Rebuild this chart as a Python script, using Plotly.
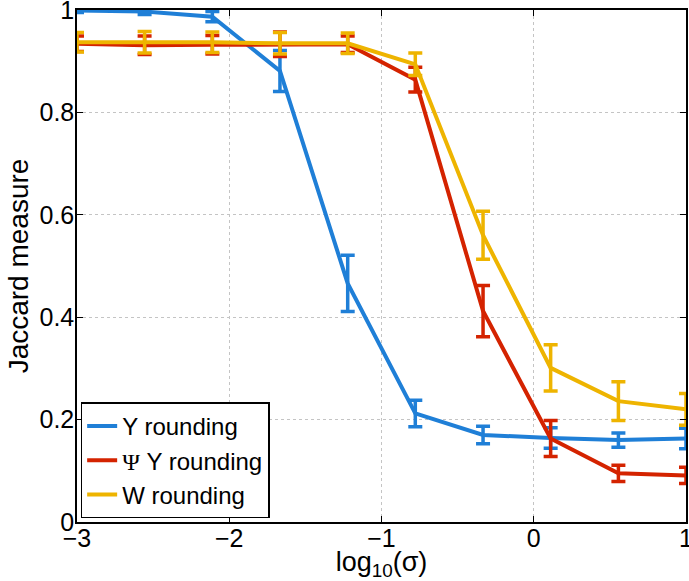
import plotly.graph_objects as go

# ---- data ----
log_sigma = [-3.0, -2.556, -2.111, -1.667, -1.222, -0.778, -0.333, 0.111, 0.556, 1.0]

y_round = [0.999, 0.997, 0.987, 0.881, 0.466, 0.212, 0.170, 0.164, 0.160, 0.163]
y_round_err = [0.004, 0.006, 0.010, 0.040, 0.055, 0.026, 0.017, 0.020, 0.014, 0.020]

psi_round = [0.934, 0.931, 0.932, 0.933, 0.933, 0.864, 0.412, 0.163, 0.095, 0.091]
psi_round_err = [0.015, 0.018, 0.018, 0.024, 0.016, 0.024, 0.050, 0.035, 0.016, 0.016]

w_round = [0.937, 0.937, 0.937, 0.935, 0.935, 0.894, 0.560, 0.301, 0.236, 0.220]
w_round_err = [0.019, 0.021, 0.020, 0.021, 0.020, 0.022, 0.047, 0.045, 0.038, 0.031]

series_names = ["Y rounding", "<span style='font-family:\"Liberation Serif\"'>Ψ</span> Y rounding", "W rounding"]
colors = ["#1f7fd7", "#d42300", "#eeb400"]

x_ticks = [-3, -2, -1, 0, 1]
x_tick_text = ["\u22123", "\u22122", "\u22121", "0", "1"]
y_ticks = [0, 0.2, 0.4, 0.6, 0.8, 1]
y_tick_text = ["0", "0.2", "0.4", "0.6", "0.8", "1"]

FONT = "Liberation Sans, Arial, sans-serif"

fig = go.Figure()
for name, ys, errs, col in zip(series_names,
                               [y_round, psi_round, w_round],
                               [y_round_err, psi_round_err, w_round_err],
                               colors):
    fig.add_trace(go.Scatter(
        x=log_sigma, y=ys, name=name, mode="lines",
        line=dict(color=col, width=4),
        error_y=dict(type="data", array=errs, visible=True,
                     color=col, thickness=3.5, width=7),
        cliponaxis=True,
    ))

axis_common = dict(
    showline=True, linecolor="black", linewidth=1.5, mirror="ticks",
    ticks="inside", ticklen=6, tickwidth=1, tickcolor="black",
    showgrid=True, gridcolor="#c4c4c4", griddash="dot", gridwidth=1,
    zeroline=False, ticklabeloverflow="allow",
    tickfont=dict(family=FONT, size=25, color="black"),
)

fig.update_xaxes(
    range=[-3, 1], tickvals=x_ticks, ticktext=x_tick_text,
    ticklabelstandoff=-7,
    title=dict(text="log<sub>10</sub>(σ)", font=dict(family=FONT, size=27, color="black"), standoff=0),
    **axis_common,
)
fig.update_yaxes(
    range=[0, 1], tickvals=y_ticks, ticktext=y_tick_text,
    ticklabelstandoff=-4,
    title=dict(text="Jaccard measure", font=dict(family=FONT, size=28, color="black"), standoff=3),
    **axis_common,
)

fig.update_layout(
    width=689, height=581,
    margin=dict(l=77, r=3, t=10, b=59, autoexpand=False),
    paper_bgcolor="white", plot_bgcolor="white",
    font=dict(family=FONT, color="black"),
    showlegend=True,
    legend=dict(
        x=0.006, y=0.007, xanchor="left", yanchor="bottom",
        bgcolor="white", bordercolor="black", borderwidth=1.5,
        font=dict(family=FONT, size=24, color="black"),
        itemwidth=30, tracegroupgap=0,
    ),
)

fig.write_html("out.html", config={"displayModeBar": False},
               post_script=["document.body.style.margin='0';document.body.style.overflow='hidden';"])
